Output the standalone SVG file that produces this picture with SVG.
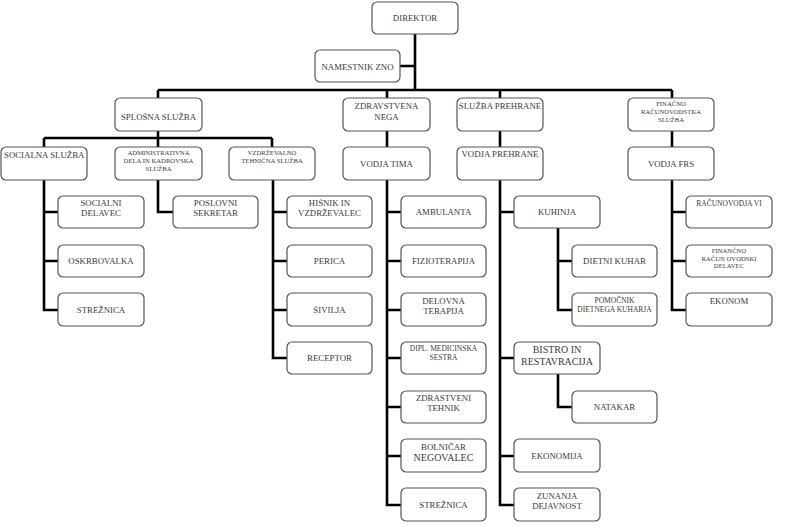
<svg xmlns="http://www.w3.org/2000/svg" width="800" height="527" viewBox="0 0 800 527" font-family="'Liberation Serif', 'Times New Roman', Times, serif">
<style>
.b{fill:#fff;stroke:#555;stroke-width:1.2}
text{font-family:'Liberation Serif','Times New Roman',Times,serif;fill:#3a3a3a;text-anchor:middle;font-size:8.8px}
.s{font-size:6.7px}
.m{font-size:7.5px}
.l{font-size:10px}
.c{fill:none;stroke:#000;stroke-width:2.6;stroke-linejoin:miter}
</style>
<rect width="800" height="527" fill="#fff"/>
<g id="connectors" class="c">
<path d="M415,34V90M400,66H415M158,90H672M158,90V98M387,90V98M500,90V98M672,90V98"/>
<path d="M158,131V147M44,138H272M44,138V147M272,138V147M387,131V147M500,131V147M672,131V147"/>
<path d="M44,180V310H58M44,212H58M44,261H58"/>
<path d="M158,180V212H173"/>
<path d="M273,180V358H287M273,212H287M273,261H287M273,310H287"/>
<path d="M387,180V505H401M387,212H401M387,261H401M387,310H401M387,358H401M387,407H401M387,456H401"/>
<path d="M500,180V505H514M500,212H514M500,358H514M500,456H514"/>
<path d="M558,228V310H572M558,261H572"/>
<path d="M558,374V407H572"/>
<path d="M672,180V310H686M672,212H686M672,261H686"/>
</g>
<g id="direktor"><rect class="b" x="372" y="2" width="86" height="32" rx="5"/><text x="415" y="21">DIREKTOR</text></g>
<g id="namestnik"><rect class="b" x="315" y="50" width="85" height="32" rx="5"/><text x="357.5" y="70">NAMESTNIK ZNO</text></g>
<g id="splosna"><rect class="b" x="115" y="98" width="87" height="33" rx="5"/><text x="158.5" y="120">SPLOŠNA SLUŽBA</text></g>
<g id="zdravstvena"><rect class="b" x="343" y="98" width="87" height="33" rx="5"/><text x="386.5" y="109">ZDRAVSTVENA</text><text x="386.5" y="120">NEGA</text></g>
<g id="prehrane"><rect class="b" x="457" y="98" width="86" height="33" rx="5"/><text x="500" y="109">SLUŽBA PREHRANE</text></g>
<g id="financno"><rect class="b" x="628" y="98" width="86" height="33" rx="5"/><text class="s" x="671" y="106">FINAČNO</text><text class="s" x="671" y="114">RAČUNOVODSTKA</text><text class="s" x="671" y="122">SLUŽBA</text></g>
<g id="socialna"><rect class="b" x="1" y="147" width="86" height="33" rx="5"/><text x="4" y="158" style="text-anchor:start">SOCIALNA SLUŽBA</text></g>
<g id="administrativna"><rect class="b" x="115" y="147" width="87" height="33" rx="5"/><text class="s" x="158.5" y="155">ADMINISTRATIVNA</text><text class="s" x="158.5" y="163">DELA IN KADROVSKA</text><text class="s" x="158.5" y="171">SLUŽBA</text></g>
<g id="vzdrzevalno"><rect class="b" x="229" y="147" width="86" height="33" rx="5"/><text class="s" x="272" y="155">VZDRŽEVALNO</text><text class="s" x="272" y="163">TEHNIČNA SLUŽBA</text></g>
<g id="vodjatima"><rect class="b" x="343" y="147" width="87" height="33" rx="5"/><text x="386.5" y="167">VODJA TIMA</text></g>
<g id="vodjaprehrane"><rect class="b" x="457" y="147" width="86" height="33" rx="5"/><text x="500" y="157">VODJA PREHRANE</text></g>
<g id="vodjafrs"><rect class="b" x="628" y="147" width="86" height="33" rx="5"/><text x="671" y="167">VODJA FRS</text></g>
<g id="socialni"><rect class="b" x="58" y="196" width="86" height="32" rx="5"/><text x="101" y="206">SOCIALNI</text><text x="101" y="216">DELAVEC</text></g>
<g id="oskrbovalka"><rect class="b" x="58" y="245" width="86" height="32" rx="5"/><text x="101" y="264">OSKRBOVALKA</text></g>
<g id="streznica1"><rect class="b" x="58" y="293" width="86" height="33" rx="5"/><text x="101" y="313">STREŽNICA</text></g>
<g id="poslovni"><rect class="b" x="173" y="196" width="85" height="32" rx="5"/><text x="215.5" y="206">POSLOVNI</text><text x="215.5" y="216">SEKRETAR</text></g>
<g id="hisnik"><rect class="b" x="287" y="196" width="85" height="32" rx="5"/><text x="329.5" y="206">HIŠNIK IN</text><text x="329.5" y="216">VZDRŽEVALEC</text></g>
<g id="perica"><rect class="b" x="287" y="245" width="85" height="32" rx="5"/><text x="329.5" y="264">PERICA</text></g>
<g id="sivilja"><rect class="b" x="287" y="293" width="85" height="33" rx="5"/><text x="329.5" y="313">ŠIVILJA</text></g>
<g id="receptor"><rect class="b" x="287" y="342" width="85" height="32" rx="5"/><text x="329.5" y="361">RECEPTOR</text></g>
<g id="ambulanta"><rect class="b" x="401" y="196" width="85" height="32" rx="5"/><text x="443.5" y="215">AMBULANTA</text></g>
<g id="fizioterapija"><rect class="b" x="401" y="245" width="85" height="32" rx="5"/><text x="443.5" y="264">FIZIOTERAPIJA</text></g>
<g id="delovna"><rect class="b" x="401" y="293" width="85" height="33" rx="5"/><text x="443.5" y="304">DELOVNA</text><text x="443.5" y="314">TERAPIJA</text></g>
<g id="dipl"><rect class="b" x="401" y="342" width="85" height="32" rx="5"/><text class="m" x="443.5" y="351">DIPL. MEDICINSKA</text><text class="m" x="443.5" y="360">SESTRA</text></g>
<g id="zdrastveni"><rect class="b" x="401" y="391" width="85" height="32" rx="5"/><text x="443.5" y="401">ZDRASTVENI</text><text x="443.5" y="411">TEHNIK</text></g>
<g id="bolnicar"><rect class="b" x="401" y="439" width="85" height="33" rx="5"/><text x="443.5" y="450">BOLNIČAR</text><text class="l" x="443.5" y="461">NEGOVALEC</text></g>
<g id="streznica2"><rect class="b" x="401" y="488" width="85" height="33" rx="5"/><text x="443.5" y="508">STREŽNICA</text></g>
<g id="kuhinja"><rect class="b" x="514" y="196" width="86" height="32" rx="5"/><text x="557" y="215">KUHINJA</text></g>
<g id="bistro"><rect class="b" x="514" y="342" width="86" height="32" rx="5"/><text class="l" x="557" y="353">BISTRO IN</text><text class="l" x="557" y="365">RESTAVRACIJA</text></g>
<g id="ekonomija"><rect class="b" x="514" y="439" width="86" height="33" rx="5"/><text x="557" y="459">EKONOMIJA</text></g>
<g id="zunanja"><rect class="b" x="514" y="488" width="86" height="33" rx="5"/><text x="557" y="499">ZUNANJA</text><text x="557" y="509">DEJAVNOST</text></g>
<g id="dietni"><rect class="b" x="572" y="245" width="85" height="32" rx="5"/><text x="614.5" y="264">DIETNI KUHAR</text></g>
<g id="pomocnik"><rect class="b" x="572" y="293" width="85" height="33" rx="5"/><text class="m" x="614.5" y="303">POMOČNIK</text><text class="m" x="614.5" y="312">DIETNEGA KUHARJA</text></g>
<g id="natakar"><rect class="b" x="572" y="391" width="85" height="32" rx="5"/><text x="614.5" y="410">NATAKAR</text></g>
<g id="racunovodja"><rect class="b" x="686" y="196" width="86" height="32" rx="5"/><text class="m" x="729" y="206">RAČUNOVODJA VI</text></g>
<g id="financnodelavec"><rect class="b" x="686" y="245" width="86" height="32" rx="5"/><text class="s" x="729" y="253">FINANČNO</text><text class="s" x="729" y="261">RAČUN OVODSKI</text><text class="s" x="729" y="268">DELAVEC</text></g>
<g id="ekonom"><rect class="b" x="686" y="293" width="86" height="33" rx="5"/><text x="729" y="304">EKONOM</text></g>
</svg>
